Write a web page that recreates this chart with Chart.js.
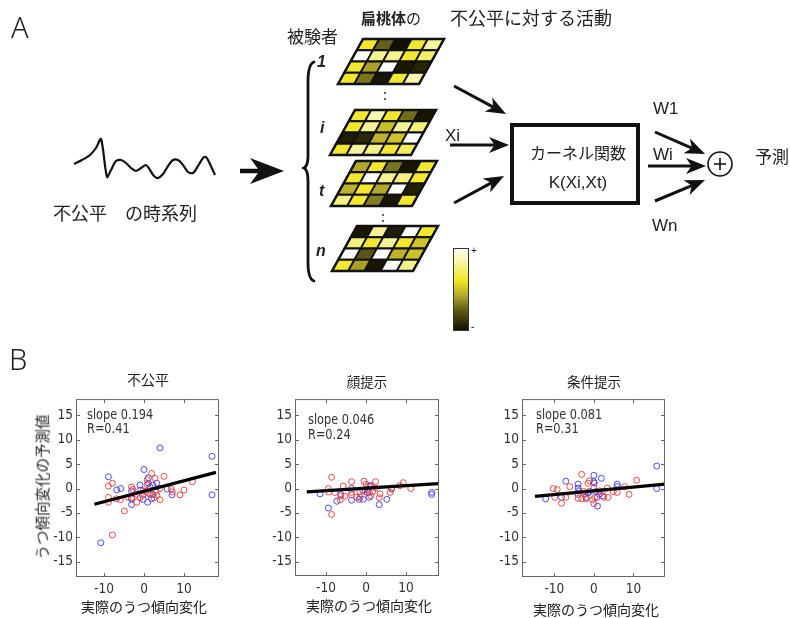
<!DOCTYPE html>
<html lang="ja">
<head>
<meta charset="UTF-8">
<title>不公平 予測</title>
<script src="https://cdn.jsdelivr.net/npm/chart.js@4.4.0/dist/chart.umd.min.js"></script>
<style>
  body { margin:0; width:790px; height:618px; background:#fff; position:relative; overflow:hidden;
         font-family:"Noto Sans CJK JP", sans-serif; color:#222; }
  canvas { position:absolute; z-index:1; }
  .t { position:absolute; z-index:2; line-height:1; white-space:nowrap; transform:translateY(-50%); }
  .c { transform:translate(-50%,-50%); }
  .lat { font-family:"Liberation Sans", Arial, sans-serif; }
  .nar { font-family:"DejaVu Sans Condensed", sans-serif; color:#333; font-size:14px;
         transform:translateY(-50%) scaleX(0.9); transform-origin:left center; }
  .idx { font:italic bold 16px "Liberation Sans", sans-serif; }
</style>
</head>
<body>
<canvas id="diagram" width="790" height="360" style="left:0;top:0"></canvas>
<canvas id="p1"></canvas>
<canvas id="p2"></canvas>
<canvas id="p3"></canvas>

<!-- A -->
<div class="t" style="left:11px;top:26px;font:300 29px 'Noto Sans',sans-serif">A</div>
<div class="t" style="left:287px;top:35px;font-size:17px">被験者</div>
<div class="t" style="left:361px;top:17px;font-size:15px"><b>扁桃体</b>の</div>
<div class="t" style="left:450px;top:17px;font-size:18px">不公平に対する活動</div>
<div class="t idx" style="left:317px;top:62px">1</div>
<div class="t idx" style="left:320px;top:128px">i</div>
<div class="t idx" style="left:319px;top:191px">t</div>
<div class="t idx" style="left:316px;top:251px">n</div>
<div class="t" style="left:53px;top:212px;font-size:18px">不公平　の時系列</div>
<div class="t lat" style="left:445px;top:135px;font-size:17px">Xi</div>
<div class="t c" style="left:578px;top:152px;font-size:16px">カーネル関数</div>
<div class="t c lat" style="left:578px;top:182px;font-size:17px">K(Xi,Xt)</div>
<div class="t lat" style="left:653px;top:108px;font-size:17px">W1</div>
<div class="t lat" style="left:653px;top:154px;font-size:17px">Wi</div>
<div class="t lat" style="left:652px;top:225px;font-size:17px">Wn</div>
<div class="t" style="left:755px;top:155px;font-size:17px">予測</div>
<div class="t lat" style="left:471px;top:251px;font-size:10px">+</div>
<div class="t lat" style="left:471px;top:327px;font-size:10px">-</div>

<!-- B -->
<div class="t" style="left:9px;top:358px;font:300 29px 'Noto Sans',sans-serif">B</div>
<div class="t c" style="left:148px;top:379px;font-size:14px">不公平</div>
<div class="t c" style="left:367px;top:382px;font-size:13.5px">顔提示</div>
<div class="t c" style="left:594px;top:382px;font-size:13.5px">条件提示</div>
<div class="t" style="left:42px;top:487px;transform:translate(-50%,-50%) rotate(-90deg);font-size:14.5px">うつ傾向変化の予測値</div>
<div class="t c" style="left:144px;top:606px;font-size:14px">実際のうつ傾向変化</div>
<div class="t c" style="left:369px;top:605px;font-size:14px">実際のうつ傾向変化</div>
<div class="t c" style="left:596px;top:609px;font-size:14px">実際のうつ傾向変化</div>
<div class="t nar" style="left:87px;top:414px">slope 0.194</div>
<div class="t nar" style="left:87px;top:428px">R=0.41</div>
<div class="t nar" style="left:308px;top:419px">slope 0.046</div>
<div class="t nar" style="left:308px;top:434px">R=0.24</div>
<div class="t nar" style="left:536px;top:414px">slope 0.081</div>
<div class="t nar" style="left:536px;top:428px">R=0.31</div>

<script>
// --- B: 散布図データ (実際の変化, 予測値) ---
const xTicks = [-10, 0, 10];
const yTicks = [-15, -10, -5, 0, 5, 10, 15];

// 不公平
const unfairRed = [[-7.9,-9.5],[-4.9,-4.6],[-8.9,0.5],[-7.9,1.1],[-8.9,-1.8],[-8.9,-2.8],[-6.9,-2.1],[-5.9,-2.3],
  [-3.1,0.3],[-2.8,-0.2],[-3.1,-1.9],[-1.8,-2.8],[-1,-1.9],[-0.3,-1.4],[0.8,1.8],[1.9,3.1],[0.8,0.8],[2.8,2.1],
  [5,2.5],[4,-2.3],[3.2,-1.4],[3,-0.6],[4,0],[6.8,-0.1],[7.1,-0.7],[9,-1.3],[10,-0.3],[12.1,1.4],[2.5,-1.9],
  [1.1,-0.9],[-1.8,-1.2],[-4,-1.8],[0.5,-0.6],[1.5,-1.2],[-0.2,-0.5]];
const unfairBlue = [[4,8.3],[17,6.6],[17,-1.3],[-10.8,-11.1],[-8.9,2.4],[0,3.9],[-6.8,-0.3],[-5.8,0],[-3.1,-3.3],
  [-3.1,-0.5],[-1,0.7],[-0.8,-0.3],[1.1,2.2],[1.1,1.1],[0.9,-2.8],[1.9,-2.1],[2.2,-1.2],[3.2,1.1],[2.2,0.7],
  [5.8,-0.1],[7,-1.3],[-0.2,-2.2],[-3.1,-2.1],[1.5,0.3]];
const unfairFitX = [-12.4, 18];
const unfairFitY = [-3.2, 3.3];

// 顔提示
const faceRed = [[-8.6,2.3],[-8.6,-5.3],[-9.4,0],[-9.3,-0.7],[-7.8,-0.8],[-6.5,-2.3],[-6.3,-1.5],[-5.7,0.5],
  [-3.6,1.4],[-3.6,-0.8],[-3.6,-1.3],[-2.3,-1.8],[-1.5,-1.8],[-0.5,1.5],[0,0.9],[0.6,0.6],[-0.3,-0.6],[0.8,-0.8],
  [1.2,-1.5],[2.4,1.4],[2.4,0.1],[3.5,-1.1],[3.3,-1.9],[6.4,0.1],[6,-0.8],[9.3,1.2],[11.2,0],[8.5,0.6],
  [-5.3,-1.6],[-1.5,-0.6],[1.7,-0.6]];
const faceBlue = [[-11.5,-1.1],[-9.4,-4],[-7.3,-2.6],[-6.3,-1.2],[-3.6,-2.4],[-3.6,0],[-1.7,-2.2],[-0.7,-2.2],
  [0.4,-0.2],[1,0.5],[1.4,0.6],[0.3,-0.8],[-0.8,-0.4],[3.3,-3.3],[5.2,-2.2],[6.4,-0.1],[16.4,-0.8],[16.4,-1.2],
  [0.8,-1.8]];
const faceFitX = [-14.8, 18.1];
const faceFitY = [-0.7, 1.0];

// 条件提示
const condRed = [[-3.1,2.9],[-10.3,0],[-9.3,-0.2],[-9.9,-1.8],[-8.2,-3],[-7.1,-1.8],[-6.1,0.4],[-4,-2],[-3.1,-2.1],
  [-2.6,-0.6],[-1.1,1.6],[-1.5,1.1],[0,0.1],[0.2,-1.8],[0,-3.1],[-0.3,-2.3],[2.2,-0.6],[2.5,-1.8],[3.6,-1.8],
  [3.4,0.1],[4.9,-0.6],[5.9,-0.8],[7.8,0.4],[8.9,-1.2],[10.8,1.7],[1.4,-0.5],[-1.9,-2.1],[-2.3,-1.2]];
const condBlue = [[15.9,4.6],[15.9,0],[-7.1,1.5],[-12.2,-2.1],[-8.2,-1.8],[-4,0.9],[-4,0.1],[-4,-1.2],[-2,-1.8],
  [-1.5,-0.9],[-1.1,-0.6],[0,2.7],[0,1.4],[0.1,1.1],[1.9,2.1],[0.9,-3.6],[0.8,-1.8],[0.6,-0.6],[5.9,0.9],
  [5.9,0.4],[1.4,-1.2],[2.2,-1.5],[-3.8,-0.5]];
const condFitX = [-14.9, 18];
const condFitY = [-1.6, 0.9];

// --- A: 図式 ---
// 不公平の時系列（手描きの波形、図の座標）
const waveX = [74, 82, 90, 96, 101, 107, 111, 116, 121, 126, 131, 136, 141, 146, 150, 154, 158, 163, 168, 173, 178, 183, 188, 193, 198, 203, 206, 210, 215];
const waveY = [164, 160, 155, 148, 139, 177, 170, 161, 160, 163, 168, 171, 168, 165, 170, 176, 178, 174, 166, 160, 160, 165, 172, 173, 166, 158, 157, 164, 175];

// 扁桃体の活動 (0 = -, 1 = +), 行は上から
const heat1 = [[0.62,0.25,0,0.62,0.82],[1,0.8,0.78,0.62,0.72],[0.62,0.4,1,0.03,0.06],[0.62,0.3,0.02,0.62,0.85]];
const heatI = [[0.62,0.85,0.62,0.28,0.02],[0.62,0.8,0.48,0.8,0.75],[0.04,0.08,0.45,0.5,1],[0.62,0.82,0.78,0.62,0.7]];
const heatT = [[0.42,0.62,0.3,0.02,0.62],[0.62,1,0.8,0.76,0.62],[0.45,0.62,0.42,1,0.05],[0.76,0.62,0.32,0.02,0.62]];
const heatN = [[0.02,0.8,0.04,1,0.62],[0.76,0.62,0.8,0.62,0.5],[1,0.22,1,0.45,0.5],[0.62,0.4,0.02,1,0.78]];

const stops = [[0,[18,16,0]],[0.25,[100,95,25]],[0.42,[178,168,45]],[0.6,[240,230,35]],[0.8,[246,243,150]],[1,[255,255,255]]];
function heatColor(v) {
  for (let i = 1; i < stops.length; i++) {
    if (v <= stops[i][0]) {
      const [a, ca] = stops[i - 1], [b, cb] = stops[i];
      const f = (v - a) / (b - a);
      const c = ca.map((q, k) => Math.round(q + (cb[k] - q) * f));
      return `rgb(${c[0]},${c[1]},${c[2]})`;
    }
  }
  return '#fff';
}

// heatmap placement: top-left corner x,y
const grids = [
  { vals: heat1, x: 363, y: 39 },
  { vals: heatI, x: 355, y: 110 },
  { vals: heatT, x: 356, y: 161 },
  { vals: heatN, x: 357, y: 226 }
];
const GW = 81, GH = 45, GS = 25;

const arrows = [
  { a: [240, 171], b: [284, 171], lw: 4.5, len: 34, half: 13 },
  { a: [454, 86], b: [506, 114], lw: 3, len: 20, half: 8 },
  { a: [450, 145], b: [509, 145], lw: 3, len: 20, half: 8 },
  { a: [454, 203], b: [504, 176], lw: 3, len: 20, half: 8 },
  { a: [655, 132], b: [705, 154], lw: 3, len: 20, half: 8 },
  { a: [648, 166], b: [706, 166], lw: 3, len: 20, half: 8 },
  { a: [655, 201], b: [705, 180], lw: 3, len: 20, half: 8 }
];

const diagramPlugin = {
  id: 'diagram',
  afterDraw(chart) {
    const { ctx } = chart;
    const sx = chart.scales.x, sy = chart.scales.y;
    const X = v => sx.getPixelForValue(v), Y = v => sy.getPixelForValue(v);
    ctx.save();

    // heatmaps
    grids.forEach(g => {
      ctx.lineJoin = 'miter';
      for (let r = 0; r < 4; r++) {
        for (let c = 0; c < 5; c++) {
          const yt = g.y + r * GH / 4, yb = g.y + (r + 1) * GH / 4;
          const st = GS * r / 4, sb = GS * (r + 1) / 4;
          const xl = g.x + c * GW / 5, xr = g.x + (c + 1) * GW / 5;
          ctx.beginPath();
          ctx.moveTo(X(xl - st), Y(yt));
          ctx.lineTo(X(xr - st), Y(yt));
          ctx.lineTo(X(xr - sb), Y(yb));
          ctx.lineTo(X(xl - sb), Y(yb));
          ctx.closePath();
          ctx.fillStyle = heatColor(g.vals[r][c]);
          ctx.fill();
          ctx.strokeStyle = '#111';
          ctx.lineWidth = 1.8;
          ctx.stroke();
        }
      }
      ctx.beginPath();
      ctx.moveTo(X(g.x), Y(g.y));
      ctx.lineTo(X(g.x + GW), Y(g.y));
      ctx.lineTo(X(g.x + GW - GS), Y(g.y + GH));
      ctx.lineTo(X(g.x - GS), Y(g.y + GH));
      ctx.closePath();
      ctx.lineWidth = 2.4;
      ctx.stroke();
    });

    // colons between grids
    ctx.fillStyle = '#333';
    [[385, 93], [385, 99], [383, 215], [383, 221]].forEach(([x, y]) => {
      ctx.beginPath(); ctx.arc(X(x), Y(y), 1, 0, Math.PI * 2); ctx.fill();
    });

    // colour bar
    const grd = ctx.createLinearGradient(0, Y(330), 0, Y(248));
    stops.forEach(([p, c]) => grd.addColorStop(p, `rgb(${c[0]},${c[1]},${c[2]})`));
    ctx.fillStyle = grd;
    ctx.fillRect(X(453), Y(248), 15, 82);
    ctx.strokeStyle = '#333'; ctx.lineWidth = 1;
    ctx.strokeRect(X(453) + 0.5, Y(248) + 0.5, 15, 82);

    // brace
    ctx.strokeStyle = '#111'; ctx.lineWidth = 2.8; ctx.lineCap = 'round';
    ctx.beginPath();
    ctx.moveTo(X(314), Y(62));
    ctx.quadraticCurveTo(X(308), Y(64), X(308), Y(82));
    ctx.lineTo(X(308), Y(156));
    ctx.quadraticCurveTo(X(308), Y(166), X(304), Y(168));
    ctx.quadraticCurveTo(X(308), Y(170), X(308), Y(181));
    ctx.lineTo(X(308), Y(262));
    ctx.quadraticCurveTo(X(308), Y(279), X(314), Y(281));
    ctx.stroke();

    // arrows
    ctx.fillStyle = '#111'; ctx.lineCap = 'butt';
    arrows.forEach(ar => {
      const [x1, y1] = ar.a, [x2, y2] = ar.b;
      const d = Math.hypot(x2 - x1, y2 - y1), ux = (x2 - x1) / d, uy = (y2 - y1) / d;
      const nx = -uy, ny = ux;
      const bx = x2 - ux * ar.len, by = y2 - uy * ar.len;
      const kx = x2 - ux * ar.len * 0.72, ky = y2 - uy * ar.len * 0.72;
      ctx.lineWidth = ar.lw;
      ctx.beginPath(); ctx.moveTo(X(x1), Y(y1)); ctx.lineTo(X(kx), Y(ky)); ctx.stroke();
      ctx.beginPath();
      ctx.moveTo(X(x2), Y(y2));
      ctx.lineTo(X(bx + nx * ar.half), Y(by + ny * ar.half));
      ctx.lineTo(X(kx), Y(ky));
      ctx.lineTo(X(bx - nx * ar.half), Y(by - ny * ar.half));
      ctx.closePath(); ctx.fill();
    });

    // kernel box
    ctx.lineWidth = 4; ctx.strokeStyle = '#111';
    ctx.strokeRect(X(512), Y(125), 126, 78);

    // summation circle
    ctx.lineWidth = 1.6;
    ctx.beginPath(); ctx.arc(X(720), Y(164), 12, 0, Math.PI * 2); ctx.stroke();
    ctx.beginPath();
    ctx.moveTo(X(714), Y(164)); ctx.lineTo(X(726), Y(164));
    ctx.moveTo(X(720), Y(158)); ctx.lineTo(X(720), Y(170));
    ctx.stroke();
    ctx.restore();
  }
};

new Chart(document.getElementById('diagram'), {
  type: 'scatter',
  data: { datasets: [{
    data: waveX.map((x, i) => ({ x, y: waveY[i] })),
    showLine: true, borderColor: '#111', borderWidth: 2.2, pointRadius: 0, tension: 0.3
  }] },
  options: {
    animation: false, responsive: false,
    layout: { padding: 0 },
    plugins: { legend: { display: false }, tooltip: { enabled: false } },
    scales: {
      x: { display: false, min: 0, max: 790 },
      y: { display: false, min: 0, max: 360, reverse: true }
    }
  },
  plugins: [diagramPlugin]
});

// --- B: scatter panels ---
const tickFont = { family: "'DejaVu Sans Condensed',sans-serif", size: 13.5 };
const panels = [
  { id: 'p1', frame: [76, 396, 219, 577], xr: [-17, 18.75], yr: [-18.1, 18.3], red: unfairRed, blue: unfairBlue, fx: unfairFitX, fy: unfairFitY },
  { id: 'p2', frame: [295, 396, 439, 576], xr: [-17.75, 18.25], yr: [-17.9, 18.3], red: faceRed, blue: faceBlue, fx: faceFitX, fy: faceFitY },
  { id: 'p3', frame: [522, 396, 665, 577], xr: [-18.2, 18], yr: [-18.1, 18.3], red: condRed, blue: condBlue, fx: condFitX, fy: condFitY }
];

const framePlugin = {
  id: 'frame',
  afterDatasetsDraw(chart) {
    const { ctx, chartArea: a } = chart;
    const sx = chart.scales.x, sy = chart.scales.y;
    ctx.save();
    ctx.strokeStyle = '#666'; ctx.lineWidth = 1;
    ctx.strokeRect(a.left + 0.5, a.top + 0.5, a.right - a.left - 1, a.bottom - a.top - 1);
    ctx.beginPath();
    xTicks.forEach(v => {
      const p = Math.round(sx.getPixelForValue(v)) + 0.5;
      ctx.moveTo(p, a.bottom); ctx.lineTo(p, a.bottom - 4);
      ctx.moveTo(p, a.top); ctx.lineTo(p, a.top + 4);
    });
    yTicks.forEach(v => {
      const p = Math.round(sy.getPixelForValue(v)) + 0.5;
      ctx.moveTo(a.left, p); ctx.lineTo(a.left + 4, p);
      ctx.moveTo(a.right, p); ctx.lineTo(a.right - 4, p);
    });
    ctx.stroke();
    ctx.restore();
  }
};

panels.forEach(p => {
  const [l, t, r, b] = p.frame;
  const cv = document.getElementById(p.id);
  cv.width = r - l + 48; cv.height = b - t + 36;
  cv.style.left = (l - 40) + 'px'; cv.style.top = (t - 8) + 'px';
  const pts = arr => arr.map(([x, y]) => ({ x, y }));
  new Chart(cv, {
    type: 'scatter',
    data: { datasets: [
      { data: p.fx.map((x, i) => ({ x, y: p.fy[i] })), showLine: true, borderColor: '#000', borderWidth: 3.2, pointRadius: 0 },
      { data: pts(p.red), pointStyle: 'circle', pointRadius: 3, borderWidth: 1, borderColor: 'rgba(228,60,60,0.9)', backgroundColor: 'rgba(0,0,0,0)' },
      { data: pts(p.blue), pointStyle: 'circle', pointRadius: 3, borderWidth: 1, borderColor: 'rgba(60,60,225,0.9)', backgroundColor: 'rgba(0,0,0,0)' }
    ] },
    options: {
      animation: false, responsive: false,
      layout: { padding: { left: 0, top: 8, right: 8, bottom: 0 } },
      plugins: { legend: { display: false }, tooltip: { enabled: false } },
      scales: {
        x: {
          type: 'linear', min: p.xr[0], max: p.xr[1],
          afterFit: s => { s.height = 28; },
          afterBuildTicks: s => { s.ticks = xTicks.map(v => ({ value: v })); },
          grid: { display: false, drawTicks: false }, border: { display: false },
          ticks: { padding: 4, font: tickFont, color: '#333', maxRotation: 0, autoSkip: false }
        },
        y: {
          type: 'linear', min: p.yr[0], max: p.yr[1],
          afterFit: s => { s.width = 40; },
          afterBuildTicks: s => { s.ticks = yTicks.map(v => ({ value: v })); },
          grid: { display: false, drawTicks: false }, border: { display: false },
          ticks: { padding: 3, font: tickFont, color: '#333', autoSkip: false }
        }
      }
    },
    plugins: [framePlugin]
  });
});
</script>
</body>
</html>
